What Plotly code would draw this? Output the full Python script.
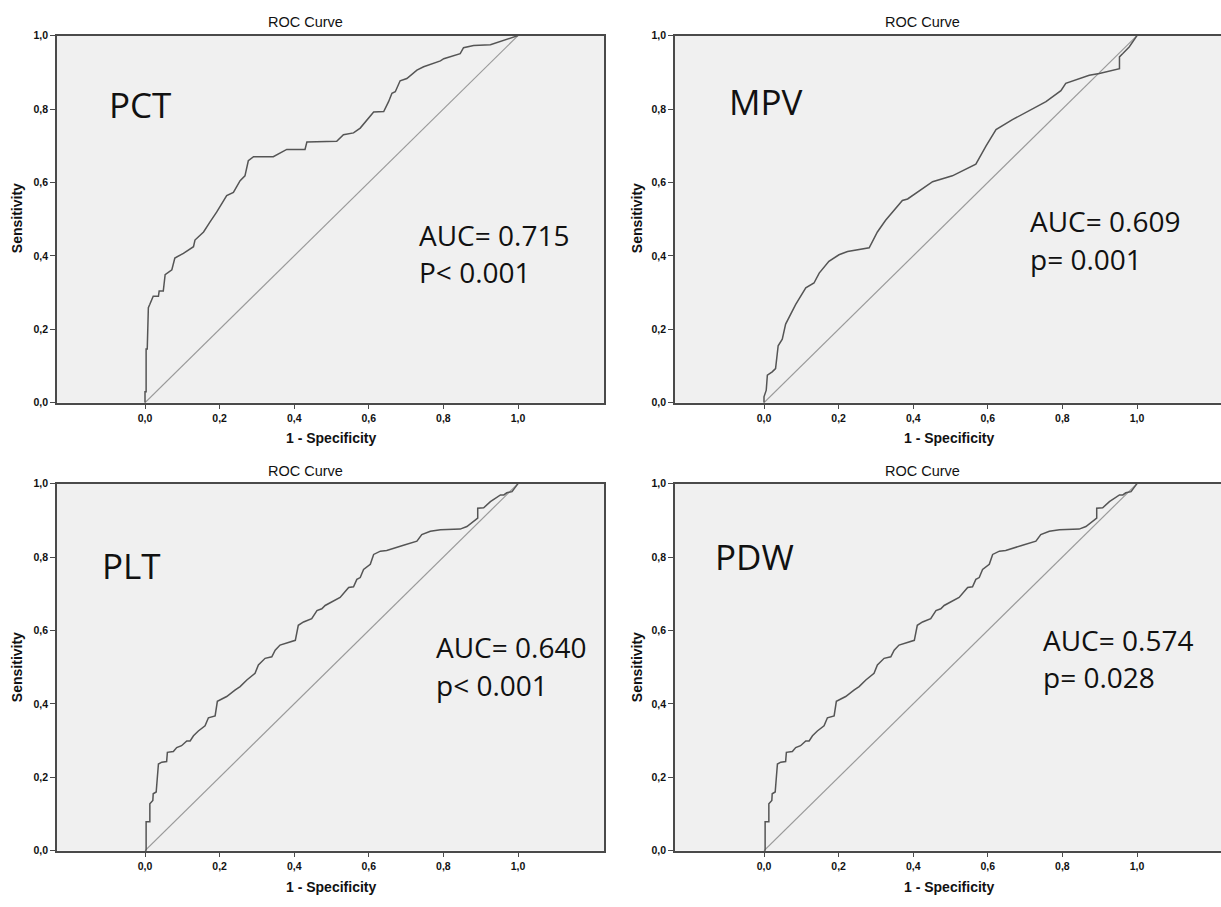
import plotly.graph_objects as go

# ---------------- data ----------------
TICK_VALS = [0.0, 0.2, 0.4, 0.6, 0.8, 1.0]
TICK_TEXT = ["0,0", "0,2", "0,4", "0,6", "0,8", "1,0"]
DIAG = [0.0, 1.0]

PCT_FPR = [0.000, 0.000, 0.003, 0.003, 0.006, 0.009, 0.013, 0.022, 0.036, 0.038, 0.049, 0.054,
           0.072, 0.080, 0.103, 0.130, 0.134, 0.157, 0.174, 0.192, 0.219, 0.237, 0.255, 0.268,
           0.277, 0.291, 0.344, 0.380, 0.429, 0.434, 0.514, 0.532, 0.559, 0.577, 0.613, 0.640,
           0.653, 0.662, 0.671, 0.684, 0.702, 0.729, 0.747, 0.774, 0.792, 0.801, 0.818, 0.845,
           0.854, 0.881, 0.926, 0.935, 0.962, 0.979, 1.000]
PCT_TPR = [0.000, 0.030, 0.030, 0.146, 0.146, 0.259, 0.268, 0.290, 0.290, 0.304, 0.304, 0.349,
           0.362, 0.394, 0.407, 0.425, 0.443, 0.465, 0.492, 0.519, 0.564, 0.573, 0.605, 0.618,
           0.659, 0.670, 0.670, 0.690, 0.690, 0.710, 0.712, 0.730, 0.735, 0.748, 0.792, 0.793,
           0.820, 0.843, 0.847, 0.877, 0.883, 0.906, 0.915, 0.925, 0.931, 0.937, 0.942, 0.951,
           0.967, 0.973, 0.975, 0.978, 0.987, 0.991, 1.000]

MPV_FPR = [0.000, 0.000, 0.006, 0.009, 0.022, 0.031, 0.038, 0.049, 0.058, 0.072, 0.085, 0.112,
           0.134, 0.148, 0.174, 0.201, 0.224, 0.282, 0.304, 0.326, 0.371, 0.385, 0.452, 0.505,
           0.568, 0.595, 0.622, 0.666, 0.756, 0.796, 0.809, 0.872, 0.899, 0.953, 0.953, 0.962,
           0.979, 1.000]
MPV_TPR = [0.000, 0.016, 0.034, 0.075, 0.084, 0.093, 0.155, 0.173, 0.214, 0.241, 0.268, 0.313,
           0.326, 0.353, 0.385, 0.403, 0.412, 0.422, 0.465, 0.497, 0.551, 0.555, 0.602, 0.618,
           0.650, 0.699, 0.744, 0.771, 0.820, 0.850, 0.870, 0.892, 0.897, 0.910, 0.942, 0.951,
           0.969, 1.000]

PLT_FPR = [0.000, 0.003, 0.003, 0.013, 0.013, 0.021, 0.022, 0.030, 0.036, 0.045, 0.058, 0.060,
           0.076, 0.085, 0.098, 0.112, 0.121, 0.130, 0.143, 0.161, 0.170, 0.188, 0.194, 0.219,
           0.242, 0.255, 0.273, 0.295, 0.304, 0.322, 0.340, 0.349, 0.362, 0.403, 0.411, 0.425,
           0.447, 0.461, 0.474, 0.483, 0.523, 0.546, 0.559, 0.568, 0.577, 0.586, 0.604, 0.613,
           0.631, 0.648, 0.693, 0.729, 0.742, 0.765, 0.792, 0.845, 0.863, 0.881, 0.892, 0.892,
           0.908, 0.926, 0.939, 0.953, 0.962, 0.970, 0.984, 0.993, 1.000]
PLT_TPR = [0.000, 0.000, 0.079, 0.079, 0.128, 0.137, 0.155, 0.160, 0.236, 0.241, 0.243, 0.268,
           0.270, 0.281, 0.286, 0.299, 0.299, 0.313, 0.326, 0.340, 0.362, 0.367, 0.407, 0.420,
           0.438, 0.447, 0.465, 0.483, 0.506, 0.524, 0.528, 0.546, 0.560, 0.573, 0.614, 0.623,
           0.632, 0.654, 0.659, 0.668, 0.690, 0.717, 0.719, 0.739, 0.744, 0.766, 0.780, 0.807,
           0.816, 0.818, 0.832, 0.843, 0.861, 0.870, 0.874, 0.876, 0.883, 0.897, 0.906, 0.933,
           0.934, 0.951, 0.960, 0.969, 0.969, 0.975, 0.978, 0.991, 1.000]

PDW_FPR = [0.000, 0.003, 0.003, 0.013, 0.013, 0.021, 0.022, 0.030, 0.036, 0.045, 0.058, 0.060,
           0.076, 0.085, 0.098, 0.112, 0.121, 0.130, 0.143, 0.161, 0.170, 0.188, 0.194, 0.219,
           0.242, 0.255, 0.273, 0.295, 0.304, 0.322, 0.340, 0.349, 0.362, 0.403, 0.411, 0.425,
           0.447, 0.461, 0.474, 0.483, 0.523, 0.546, 0.559, 0.568, 0.577, 0.586, 0.604, 0.613,
           0.631, 0.648, 0.693, 0.729, 0.742, 0.765, 0.792, 0.845, 0.863, 0.881, 0.892, 0.892,
           0.908, 0.926, 0.939, 0.953, 0.962, 0.970, 0.984, 0.993, 1.000]
PDW_TPR = [0.000, 0.000, 0.079, 0.079, 0.128, 0.137, 0.155, 0.160, 0.236, 0.241, 0.243, 0.268,
           0.270, 0.281, 0.286, 0.299, 0.299, 0.313, 0.326, 0.340, 0.362, 0.367, 0.407, 0.420,
           0.438, 0.447, 0.465, 0.483, 0.506, 0.524, 0.528, 0.546, 0.560, 0.573, 0.614, 0.623,
           0.632, 0.654, 0.659, 0.668, 0.690, 0.717, 0.719, 0.739, 0.744, 0.766, 0.780, 0.807,
           0.816, 0.818, 0.832, 0.843, 0.861, 0.870, 0.874, 0.876, 0.883, 0.897, 0.906, 0.933,
           0.934, 0.951, 0.960, 0.969, 0.969, 0.975, 0.978, 0.991, 1.000]

LABELS = ["PCT", "MPV", "PLT", "PDW"]
AUC_TEXT = ["AUC= 0.715", "AUC= 0.609", "AUC= 0.640", "AUC= 0.574"]
P_TEXT = ["P< 0.001", "p= 0.001", "p< 0.001", "p= 0.028"]
TITLE = "ROC Curve"
X_TITLE = "1 - Specificity"
Y_TITLE = "Sensitivity"

# ---------------- layout geometry (pixels) ----------------
W, H = 1221, 907


def fx(p):
    return p / W


def fy(p):
    return 1 - p / H


PANELS = [
    dict(fpr=PCT_FPR, tpr=PCT_TPR, left=57, right=604, x0=145, x1=518, top=30, bottom=402,
         lab=(140, 99.5), auc=(416.5, 233.3, 271.0), title=(305, 16.5), ytit=(17, 215),
         xtit=(331, 438), mirror=True),
    dict(fpr=MPV_FPR, tpr=MPV_TPR, left=675, right=1221, x0=764, x1=1137, top=30, bottom=402,
         lab=(766.5, 97), auc=(1027.5, 219.0, 257.5), title=(922, 16.5), ytit=(637, 215),
         xtit=(949, 438), mirror=False),
    dict(fpr=PLT_FPR, tpr=PLT_TPR, left=57, right=604, x0=145, x1=518, top=484, bottom=856,
         lab=(131, 566.5), auc=(434.0, 650.5, 689.0), title=(305, 471.5), ytit=(17, 670),
         xtit=(331, 893), mirror=True),
    dict(fpr=PDW_FPR, tpr=PDW_TPR, left=675, right=1221, x0=764, x1=1137, top=484, bottom=856,
         lab=(754, 557.5), auc=(1041.0, 643.0, 681.0), title=(922, 471.5), ytit=(637, 670),
         xtit=(949, 893), mirror=False),
]

CURVE_COLOR = "#555555"
DIAG_COLOR = "#9a9a9a"
AXIS_COLOR = "#4a4a4a"
TEXT_COLOR = "#111111"
BIG_FONT = "Open Sans, Noto Sans, sans-serif"
SMALL_FONT = "Arial, Liberation Sans, sans-serif"

fig = go.Figure()
annotations = []
layout_axes = {}

for i, p in enumerate(PANELS):
    n = "" if i == 0 else str(i + 1)
    xa, ya = "x" + n, "y" + n
    ppu = (p["x1"] - p["x0"])
    xr = [(p["left"] - p["x0"]) / ppu, (p["right"] - p["x0"]) / ppu]

    fig.add_trace(go.Scatter(x=DIAG, y=DIAG, mode="lines", xaxis=xa, yaxis=ya,
                             line=dict(color=DIAG_COLOR, width=1.2), showlegend=False,
                             hoverinfo="skip"))
    fig.add_trace(go.Scatter(x=p["fpr"], y=p["tpr"], mode="lines", xaxis=xa, yaxis=ya,
                             line=dict(color=CURVE_COLOR, width=1.5), showlegend=False,
                             name=LABELS[i]))

    tickfont = dict(family=SMALL_FONT, size=10.5, color=TEXT_COLOR, weight="bold")
    layout_axes["xaxis" + n] = dict(
        domain=[fx(p["left"]), min(1.0, fx(p["right"]))], range=xr, anchor=ya,
        tickvals=TICK_VALS, ticktext=TICK_TEXT, ticks="outside", ticklen=5,
        tickcolor=AXIS_COLOR, tickwidth=1.2, showgrid=False, zeroline=False,
        showline=True, linecolor=AXIS_COLOR, linewidth=1.6, mirror=True,
        tickfont=tickfont, fixedrange=True)
    layout_axes["yaxis" + n] = dict(
        domain=[fy(p["bottom"]), fy(p["top"])], range=[0, 1], anchor=xa,
        tickvals=TICK_VALS, ticktext=TICK_TEXT, ticks="outside", ticklen=5,
        tickcolor=AXIS_COLOR, tickwidth=1.2, showgrid=False, zeroline=False,
        showline=True, linecolor=AXIS_COLOR, linewidth=1.6, mirror=p["mirror"],
        tickfont=tickfont, fixedrange=True)

    annotations.append(dict(text=LABELS[i], x=fx(p["lab"][0]), y=fy(p["lab"][1]),
                            xref="paper", yref="paper", xanchor="center", yanchor="middle",
                            showarrow=False,
                            font=dict(family=BIG_FONT, size=35, color="#111111")))
    annotations.append(dict(text=AUC_TEXT[i], x=fx(p["auc"][0]), y=fy(p["auc"][1] - 1),
                            xref="paper", yref="paper", xanchor="left", yanchor="middle",
                            showarrow=False,
                            font=dict(family=BIG_FONT, size=28, color="#111111")))
    annotations.append(dict(text=P_TEXT[i], x=fx(p["auc"][0]), y=fy(p["auc"][2] - 1),
                            xref="paper", yref="paper", xanchor="left", yanchor="middle",
                            showarrow=False,
                            font=dict(family=BIG_FONT, size=28, color="#111111")))
    annotations.append(dict(text=TITLE, x=fx(p["title"][0]), y=fy(p["title"][1]),
                            xref="paper", yref="paper", xanchor="center", yanchor="middle",
                            showarrow=False,
                            font=dict(family=SMALL_FONT, size=14.5, color=TEXT_COLOR)))
    annotations.append(dict(text="<b>" + X_TITLE + "</b>", x=fx(p["xtit"][0]),
                            y=fy(p["xtit"][1]), xref="paper", yref="paper",
                            xanchor="center", yanchor="middle", showarrow=False,
                            font=dict(family=SMALL_FONT, size=14, color=TEXT_COLOR)))
    annotations.append(dict(text="<b>" + Y_TITLE + "</b>", x=fx(p["ytit"][0]),
                            y=fy(p["ytit"][1]), xref="paper", yref="paper",
                            xanchor="center", yanchor="middle", showarrow=False,
                            textangle=-90,
                            font=dict(family=SMALL_FONT, size=14, color=TEXT_COLOR)))

fig.update_layout(
    width=W, height=H, margin=dict(l=0, r=0, t=0, b=0, pad=0),
    paper_bgcolor="white", plot_bgcolor="#f0f0f0",
    annotations=annotations, showlegend=False, **layout_axes)

fig.write_html("out.html", config={"displayModeBar": False},
               post_script="document.body.style.margin='0px';"
                           "document.body.style.overflow='hidden';")
